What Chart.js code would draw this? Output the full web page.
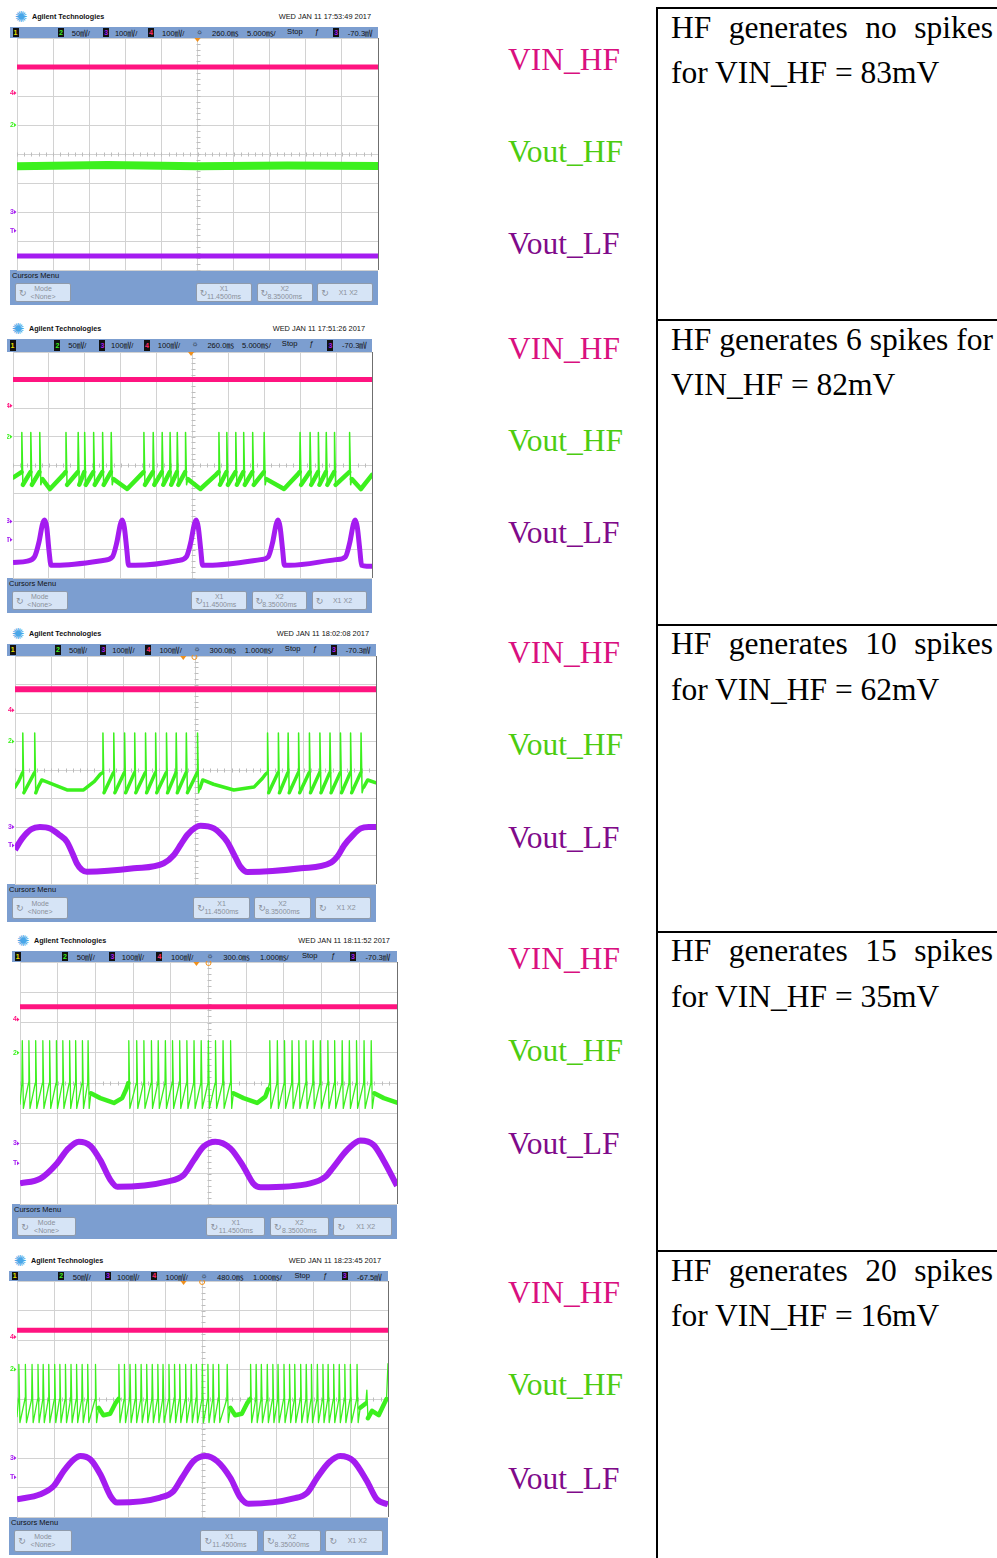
<!DOCTYPE html>
<html><head><meta charset="utf-8">
<script src="https://cdn.jsdelivr.net/npm/chart.js@4.4.0/dist/chart.umd.min.js"></script>
<style>
html,body{margin:0;padding:0;background:#fff;width:997px;height:1558px;overflow:hidden;position:relative;font-family:"Liberation Sans",Arial,sans-serif;}
canvas{position:absolute;}
</style></head><body>
<script>
// ================= DATA =================
const channelLabels = ['VIN_HF', 'Vout_HF', 'Vout_LF'];
const tableLine1 = ['HF generates no spikes', 'HF generates 6 spikes for', 'HF generates 10 spikes', 'HF generates 15 spikes', 'HF generates 20 spikes'];
const tableLine2 = ['for VIN_HF = 83mV', 'VIN_HF = 82mV', 'for VIN_HF = 62mV', 'for VIN_HF = 35mV', 'for VIN_HF = 16mV'];
const scopeDates = ['WED JAN 11 17:53:49 2017', 'WED JAN 11 17:51:26 2017', 'WED JAN 11 18:02:08 2017', 'WED JAN 11 18:11:52 2017', 'WED JAN 11 18:23:45 2017'];
const scopeDelays = ['260.0', '260.0', '300.0', '300.0', '480.0'];
const scopeTimebases = ['5.000', '5.000', '1.000', '1.000', '1.000'];
const scopeTrigLevels = ['-70.3', '-70.3', '-70.3', '-70.3', '-67.5'];
const channelMarkerLevels = [6.1, 5.0, 2.0, 1.35];   // divisions (4, 2, 3, T)

// traces, in screen divisions: x 0..10, y 0..8
// Panel 1
const vin1 = [[0, 7.0], [10, 7.0]];
const hf1 = [[0, 3.58], [2.5, 3.62], [5, 3.58], [7.5, 3.6], [10, 3.59]];
const lf1 = [[0, 0.48], [10, 0.48]];
// Panel 2
const vin2 = [[0, 7.03], [10, 7.03]];
const hfSpikes2 = [0.24, 0.49, 0.74, 1.47, 1.81, 1.99, 2.24, 2.49, 2.73, 3.64, 3.90, 4.15, 4.37, 4.57, 4.80, 5.73, 5.95, 6.20, 6.42, 6.67, 6.99, 7.99, 8.27, 8.50, 8.72, 8.95, 9.37];
const hfLevels2 = [3.75, 5.15, 3.3];   // pre-spike, peak, trough
const hfGaps2 = [[0, 3.55], [0.12, 3.65], [0.82, 3.5], [1.03, 3.15], [1.40, 3.65], [2.80, 3.5], [3.18, 3.15], [3.56, 3.65], [4.87, 3.5], [5.22, 3.15], [5.65, 3.65], [7.06, 3.5], [7.55, 3.15], [7.92, 3.65], [9.44, 3.5], [9.69, 3.15], [10, 3.65]];
const lf2 = [[0, 0.55], [0.4, 0.6], [0.6, 0.75], [0.72, 1.25], [0.82, 1.9], [0.875, 2.05], [0.94, 1.8], [1.0, 1.0], [1.06, 0.45], [1.2, 0.45], [2.5, 0.62], [2.77, 0.75], [2.89, 1.25], [2.99, 1.9], [3.04, 2.05], [3.10, 1.8], [3.17, 1.0], [3.22, 0.45], [3.4, 0.45], [4.6, 0.62], [4.83, 0.75], [4.95, 1.25], [5.05, 1.9], [5.10, 2.05], [5.16, 1.8], [5.23, 1.0], [5.28, 0.45], [5.45, 0.45], [6.9, 0.65], [7.11, 0.75], [7.23, 1.25], [7.33, 1.9], [7.38, 2.05], [7.44, 1.8], [7.51, 1.0], [7.56, 0.45], [7.7, 0.45], [9.0, 0.65], [9.26, 0.75], [9.38, 1.25], [9.48, 1.9], [9.53, 2.05], [9.59, 1.8], [9.66, 1.0], [9.71, 0.45], [9.85, 0.42], [10, 0.42]];
// Panel 3
const vin3 = [[0, 6.83], [10, 6.83]];
const hfSpikes3 = [0.21, 0.54, 2.43, 2.73, 3.03, 3.31, 3.61, 3.89, 4.19, 4.46, 4.74, 5.05, 6.99, 7.29, 7.56, 7.85, 8.15, 8.44, 8.72, 9.01, 9.29, 9.58];
const hfLevels3 = [3.9, 5.3, 3.2];
const hfGaps3 = [[0, 3.4], [0.1, 3.6], [0.62, 3.35], [0.74, 3.65], [0.95, 3.55], [1.44, 3.3], [1.9, 3.3], [2.2, 3.6], [2.36, 3.85], [5.12, 3.35], [5.2, 3.65], [5.5, 3.5], [6.06, 3.3], [6.62, 3.4], [6.85, 3.7], [6.94, 3.85], [9.66, 3.4], [9.77, 3.65], [10, 3.55]];
const lf3 = [[0, 1.2], [0.2, 1.6], [0.45, 1.92], [0.69, 2.0], [0.97, 1.95], [1.2, 1.75], [1.44, 1.48], [1.6, 1.05], [1.71, 0.73], [1.85, 0.5], [1.99, 0.43], [3.29, 0.55], [4.12, 0.73], [4.4, 1.02], [4.6, 1.4], [4.77, 1.72], [5.0, 1.98], [5.14, 2.04], [5.51, 1.95], [5.7, 1.75], [5.88, 1.48], [6.1, 0.95], [6.25, 0.6], [6.44, 0.42], [7.92, 0.55], [8.75, 0.75], [8.95, 1.0], [9.12, 1.36], [9.35, 1.7], [9.58, 1.95], [9.8, 2.0], [10, 2.0]];
// Panel 4
const vin4 = [[0, 6.52], [10, 6.52]];
const hfSpikes4 = [0.055, 0.23, 0.41, 0.60, 0.78, 0.96, 1.13, 1.31, 1.47, 1.65, 1.80, 2.88, 3.09, 3.28, 3.48, 3.66, 3.85, 4.04, 4.23, 4.42, 4.61, 4.80, 4.99, 5.18, 5.38, 5.58, 6.62, 6.82, 7.01, 7.21, 7.39, 7.58, 7.77, 7.96, 8.16, 8.34, 8.54, 8.73, 8.92, 9.12, 9.31];
const hfLevels4 = [4.0, 5.4, 3.16];
const hfGaps4 = [[0, 3.3], [1.88, 3.66], [2.13, 3.5], [2.49, 3.34], [2.71, 3.5], [2.82, 3.8], [5.66, 3.66], [5.93, 3.5], [6.29, 3.34], [6.51, 3.55], [6.58, 3.8], [9.40, 3.66], [9.65, 3.5], [10, 3.35]];
const lf4 = [[0, 0.68], [0.54, 0.84], [0.98, 1.34], [1.25, 1.79], [1.56, 2.06], [1.87, 1.92], [2.13, 1.45], [2.40, 0.79], [2.58, 0.57], [3.90, 0.74], [4.34, 0.96], [4.61, 1.45], [4.87, 1.9], [5.18, 2.06], [5.58, 1.84], [5.93, 1.23], [6.20, 0.66], [6.38, 0.55], [7.70, 0.68], [8.10, 0.9], [8.32, 1.23], [8.68, 1.79], [9.03, 2.1], [9.38, 1.95], [9.64, 1.45], [10, 0.6]];
// Panel 5
const vin5 = [[0, 6.33], [10, 6.33]];
const hfSpikes5 = [0.044, 0.22, 0.40, 0.56, 0.70, 0.85, 1.01, 1.15, 1.30, 1.45, 1.60, 1.75, 1.90, 2.11, 2.74, 2.89, 3.04, 3.19, 3.34, 3.49, 3.64, 3.79, 3.93, 4.09, 4.24, 4.38, 4.54, 4.69, 4.83, 4.99, 5.14, 5.28, 5.43, 5.66, 6.29, 6.44, 6.58, 6.74, 6.89, 7.03, 7.19, 7.34, 7.48, 7.64, 7.79, 7.93, 8.09, 8.24, 8.38, 8.53, 8.68, 8.83, 8.98, 9.16];
const hfLevels5 = [4.0, 5.17, 3.2];
const hfGaps5 = [[0, 3.4], [2.20, 3.7], [2.33, 3.45], [2.51, 3.5], [2.65, 3.85], [5.75, 3.7], [5.88, 3.45], [6.06, 3.5], [6.2, 3.85], [9.25, 3.7], [9.40, 3.85], [9.43, 4.3], [9.46, 3.35], [9.57, 3.6], [9.75, 3.45], [9.9, 3.85], [9.96, 4.0], [10, 5.2]];
const lf5 = [[0, 0.6], [0.63, 0.77], [0.99, 1.05], [1.26, 1.56], [1.53, 1.95], [1.71, 2.07], [1.98, 1.95], [2.25, 1.44], [2.52, 0.71], [2.70, 0.49], [3.86, 0.66], [4.22, 0.88], [4.45, 1.33], [4.76, 1.9], [5.08, 2.07], [5.39, 1.9], [5.75, 1.33], [6.02, 0.66], [6.24, 0.45], [7.46, 0.63], [7.82, 0.82], [8.09, 1.33], [8.4, 1.84], [8.71, 2.07], [9.07, 1.9], [9.43, 1.22], [9.7, 0.6], [10, 0.43]];

// ================= LAYOUT / STYLE =================
const COL = {vin: '#ff1480', hf: '#3cf01e', lf: '#a41cf0', bar: '#7c9ed0'};
const LABEL_COL = ['#d9107f', '#4ccc10', '#800a8a'];
const layouts = [
  {L: 10, R: 378, statusTop: 27, gridTop: 38, gridBottom: 270, cursorBottom: 305, gridL: 17, trig: [5.0], labelY: [60, 152, 244], textY: [28, 73], w: [5, 8, 1.5, 4], lfW: 5},
  {L: 7, R: 372, statusTop: 339, gridTop: 352, gridBottom: 578, cursorBottom: 613, gridL: 13, trig: [4.96], labelY: [349, 441, 533], textY: [340, 385], w: [5, 4.5, 1.5, 4], lfW: 5},
  {L: 7, R: 376, statusTop: 644, gridTop: 656, gridBottom: 884, cursorBottom: 922, gridL: 15, trig: [4.66, 4.97], labelY: [653, 745, 838], textY: [644, 690], w: [6, 3.5, 1.5, 4], lfW: 6},
  {L: 12, R: 397, statusTop: 951, gridTop: 962, gridBottom: 1204, cursorBottom: 1239, gridL: 20, trig: [4.68, 5.0], labelY: [959, 1051, 1144], textY: [951, 997], w: [5, 4.5, 1.3, 4], lfW: 6},
  {L: 9, R: 388, statusTop: 1271, gridTop: 1281, gridBottom: 1517, cursorBottom: 1555, gridL: 17, trig: [4.49, 4.99], labelY: [1293, 1385, 1479], textY: [1271, 1316], w: [5, 4.5, 1.3, 4], lfW: 6}
];
const tableLines = [7, 319, 624, 931, 1250];

function pts(arr) { return arr.map(([x, y]) => ({x, y})); }
function composeHF(spikes, levels, gaps) {
  const [pre, peak, trough] = levels;
  const out = pts(gaps);
  for (const t of spikes) out.push({x: t - 0.004, y: pre}, {x: t + 0.006, y: peak}, {x: t + 0.035, y: trough});
  return out.sort((a, b) => a.x - b.x);
}
const traces = [
  {vin: pts(vin1), hf: pts(hf1), lf: pts(lf1)},
  {vin: pts(vin2), hf: composeHF(hfSpikes2, hfLevels2, hfGaps2), lf: pts(lf2)},
  {vin: pts(vin3), hf: composeHF(hfSpikes3, hfLevels3, hfGaps3), lf: pts(lf3)},
  {vin: pts(vin4), hf: composeHF(hfSpikes4, hfLevels4, hfGaps4), lf: pts(lf4)},
  {vin: pts(vin5), hf: composeHF(hfSpikes5, hfLevels5, hfGaps5), lf: pts(lf5)}
];

function add(parent, css, text) {
  const d = document.createElement('div');
  d.style.cssText = 'position:absolute;' + css;
  if (text != null) d.textContent = text;
  parent.appendChild(d);
  return d;
}

const scopeDeco = {
  id: 'scopeDeco',
  beforeDatasetsDraw(chart) {
    const {ctx, chartArea: a, scales: {x, y}} = chart;
    ctx.save();
    ctx.strokeStyle = '#bdbdbd'; ctx.lineWidth = 1;
    const cx = Math.round(x.getPixelForValue(5)) + 0.5, cy = Math.round(y.getPixelForValue(4)) + 0.5;
    ctx.beginPath();
    for (let i = 0; i <= 50; i++) { const px = Math.round(x.getPixelForValue(i / 5)) + 0.5; ctx.moveTo(px, cy - 2); ctx.lineTo(px, cy + 2); }
    for (let i = 0; i <= 40; i++) { const py = Math.round(y.getPixelForValue(i / 5)) + 0.5; ctx.moveTo(cx - 2, py); ctx.lineTo(cx + 2, py); }
    ctx.stroke();
    ctx.restore();
  },
  afterDraw(chart, args, opts) {
    const {ctx, chartArea: a, scales: {x, y}} = chart;
    ctx.save();
    // right border
    ctx.strokeStyle = '#6f6f6f'; ctx.lineWidth = 1;
    ctx.beginPath(); ctx.moveTo(Math.round(a.right) + 0.5, a.top); ctx.lineTo(Math.round(a.right) + 0.5, a.bottom); ctx.stroke();
    // channel markers
    const mk = [['4', COL.vin], ['2', COL.hf], ['3', COL.lf], ['T', COL.lf]];
    ctx.font = 'bold 7px "Liberation Sans"';
    ctx.textBaseline = 'middle';
    mk.forEach(([t, c], i) => {
      const py = y.getPixelForValue(channelMarkerLevels[i]);
      ctx.fillStyle = c;
      ctx.fillText(t, a.left - 7, py);
      ctx.beginPath(); ctx.moveTo(a.left - 3, py - 2); ctx.lineTo(a.left - 0.5, py); ctx.lineTo(a.left - 3, py + 2); ctx.fill();
    });
    // trigger markers
    ctx.fillStyle = '#f0901c'; ctx.strokeStyle = '#f0901c';
    opts.trig.forEach((v, i) => {
      const px = x.getPixelForValue(v);
      if (i === 0) { ctx.beginPath(); ctx.moveTo(px - 3, a.top); ctx.lineTo(px + 3, a.top); ctx.lineTo(px, a.top + 4); ctx.fill(); }
      else { ctx.beginPath(); ctx.arc(px, a.top + 1, 2.5, 0, Math.PI * 2); ctx.stroke(); }
    });
    ctx.restore();
  }
};

function hfSegment(thin, thick, th) {
  return {borderWidth: c => {
    const dx = Math.abs(c.p1.parsed.x - c.p0.parsed.x) || 1e-6;
    const s = Math.abs(c.p1.parsed.y - c.p0.parsed.y) / dx;
    return s > th ? thin : thick;
  }};
}

function buildPanel(p, i) {
  const body = document.body;
  const L = p.L, R = p.R, Wd = R - L;
  const hTop = p.statusTop - 18;
  // header
  add(body, `left:${L + 2}px;top:${hTop}px;width:18px;height:16px;font:15px 'DejaVu Sans';color:#49a6e8;line-height:16px;text-align:center`, '✺');
  add(body, `left:${L + 22}px;top:${hTop + 3}px;font:bold 7.2px 'Liberation Sans';line-height:10px;color:#111;white-space:nowrap`, 'Agilent Technologies');
  add(body, `right:${997 - (R - 7)}px;top:${hTop + 3}px;font:7.4px 'Liberation Sans';line-height:10px;color:#111;white-space:nowrap`, scopeDates[i]);
  // status bar
  const sh = p.gridTop - p.statusTop;
  const sb = add(body, `left:${L}px;top:${p.statusTop}px;width:${Wd}px;height:${sh}px;background:${COL.bar}`);
  const items = [[0.007, 'b', '1', '#e8e000'], [0.13, 'b', '2', COL.hf], [0.168, 't', '50㎷/'], [0.253, 'b', '3', COL.lf], [0.285, 't', '100㎷/'], [0.375, 'b', '4', '#ff2a6a'], [0.413, 't', '100㎷/'], [0.506, 't', '☼'], [0.549, 't', scopeDelays[i] + '㎳'], [0.644, 't', scopeTimebases[i] + '㎳/'], [0.753, 't', 'Stop'], [0.829, 't', 'ƒ'], [0.878, 'b', '3', COL.lf], [0.918, 't', scopeTrigLevels[i] + '㎷']];
  items.forEach(([f, k, t, c]) => {
    if (k === 'b') add(sb, `left:${f * Wd}px;top:1px;width:6px;height:${sh - 2}px;background:#111;color:${c};font:bold 7px 'Liberation Sans';text-align:center;line-height:${sh - 2}px`, t);
    else add(sb, `left:${f * Wd}px;top:0;line-height:${sh}px;font:7.6px 'Liberation Sans','Noto Sans CJK SC';color:#111;white-space:nowrap`, t);
  });
  // cursor bar
  const ch = p.cursorBottom - p.gridBottom;
  const cb = add(body, `left:${L}px;top:${p.gridBottom}px;width:${Wd}px;height:${ch}px;background:${COL.bar}`);
  add(cb, `left:2px;top:1px;font:7.5px 'Liberation Sans';line-height:9px;color:#111;white-space:nowrap`, 'Cursors Menu');
  const btns = [[0.0136, 0.166, 'Mode', '<None>'], [0.505, 0.658, 'X1', '11.4500ms'], [0.670, 0.823, 'X2', '8.35000ms'], [0.835, 0.987, 'X1 X2', null]];
  btns.forEach(([a, b, t1, t2]) => {
    const bt = add(cb, `left:${a * Wd}px;top:13px;width:${(b - a) * Wd}px;height:${ch - 16}px;background:#d6e4f6;border:1px solid #8e9aab;box-sizing:border-box;border-radius:2px;color:#8a909a;font:7px 'Liberation Sans';text-align:center`);
    add(bt, `left:3px;top:${(ch - 18) / 2 - 5}px;font:9px 'DejaVu Sans';line-height:10px;color:#8a909a`, '↻');
    if (t2) {
      add(bt, `left:0;right:0;top:${(ch - 18) / 2 - 8}px;line-height:8px`, t1);
      add(bt, `left:0;right:0;top:${(ch - 18) / 2}px;line-height:8px`, t2);
    } else add(bt, `left:6px;right:0;top:${(ch - 18) / 2 - 4}px;line-height:8px`, t1);
  });
  // chart canvas
  const cv = document.createElement('canvas');
  const cw = R - L + 2, chh = p.gridBottom - p.gridTop + 2;
  cv.width = cw; cv.height = chh;
  cv.style.cssText = `left:${L}px;top:${p.gridTop - 1}px;width:${cw}px;height:${chh}px`;
  body.appendChild(cv);
  const tr = traces[i];
  const [vinW, hfThick, hfThin, th] = p.w;
  const hfDs = {data: tr.hf, borderColor: COL.hf, borderWidth: hfThick, pointRadius: 0, tension: 0, borderCapStyle: 'round', borderJoinStyle: 'round'};
  if (i > 0) hfDs.segment = hfSegment(hfThin, hfThick, th);
  const grid = {color: '#d2d2d2', lineWidth: 1, drawTicks: false};
  new Chart(cv, {
    type: 'line',
    data: {datasets: [
      {data: tr.vin, borderColor: COL.vin, borderWidth: vinW, pointRadius: 0, tension: 0},
      hfDs,
      {data: tr.lf, borderColor: COL.lf, borderWidth: p.lfW, pointRadius: 0, cubicInterpolationMode: 'monotone'}
    ]},
    options: {
      responsive: false, animation: false, events: [],
      layout: {padding: {left: p.gridL - L, top: 1, right: 2, bottom: 1}},
      plugins: {legend: {display: false}, tooltip: {enabled: false}, scopeDeco: {trig: p.trig}},
      scales: {
        x: {type: 'linear', min: 0, max: 10, ticks: {display: false, stepSize: 1}, grid, border: {display: false}},
        y: {type: 'linear', min: 0, max: 8, ticks: {display: false, stepSize: 1}, grid, border: {display: false}}
      }
    },
    plugins: [scopeDeco]
  });
  // labels
  channelLabels.forEach((t, k) => {
    add(body, `left:508px;top:${p.labelY[k] - 18}px;font:31.5px 'Liberation Serif';line-height:36px;color:${LABEL_COL[k]};white-space:nowrap`, t);
  });
  // table text
  add(body, `left:671px;top:${p.textY[0] - 18}px;width:322px;font:31.5px 'Liberation Serif';line-height:36px;color:#000;text-align:justify;text-align-last:justify;white-space:nowrap`, tableLine1[i]);
  add(body, `left:671px;top:${p.textY[1] - 18}px;font:31.5px 'Liberation Serif';line-height:36px;color:#000;white-space:nowrap`, tableLine2[i]);
}

layouts.forEach(buildPanel);
// table borders
add(document.body, `left:656px;top:7px;width:2px;height:1551px;background:#000`);
tableLines.forEach(y => add(document.body, `left:656px;top:${y}px;width:341px;height:2px;background:#000`));
</script>
</body></html>
